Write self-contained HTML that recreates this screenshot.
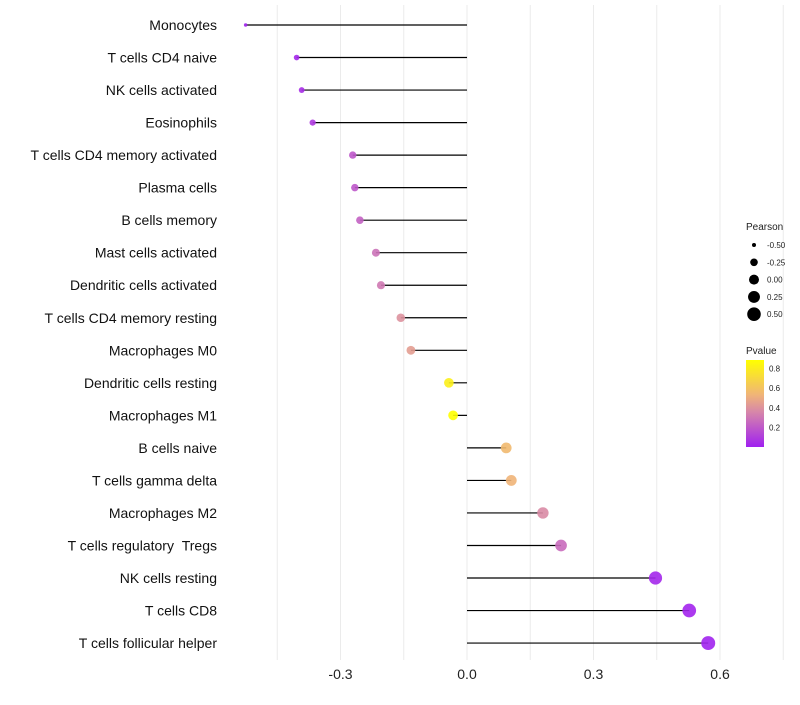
<!DOCTYPE html>
<html><head><meta charset="utf-8"><style>
body{margin:0;background:#fff;font-family:"Liberation Sans",sans-serif}
</style></head><body>
<svg id="chart" width="800" height="700" xmlns="http://www.w3.org/2000/svg" font-family="Liberation Sans, sans-serif"></svg>
<script>
const cells=["Monocytes","T cells CD4 naive","NK cells activated","Eosinophils","T cells CD4 memory activated","Plasma cells","B cells memory","Mast cells activated","Dendritic cells activated","T cells CD4 memory resting","Macrophages M0","Dendritic cells resting","Macrophages M1","B cells naive","T cells gamma delta","Macrophages M2","T cells regulatory \u00a0Tregs","NK cells resting","T cells CD8","T cells follicular helper"];
const pearson=[-0.525,-0.404,-0.392,-0.366,-0.271,-0.266,-0.254,-0.216,-0.204,-0.157,-0.133,-0.043,-0.033,0.093,0.105,0.18,0.223,0.447,0.527,0.572];
const pvalue=[0.01,0.03,0.05,0.1,0.22,0.22,0.26,0.32,0.35,0.45,0.5,0.82,0.88,0.62,0.6,0.42,0.3,0.03,0.02,0.01];
const xTicks=[-0.3,0,0.3,0.6];
const xTickLabels=["-0.3","0.0","0.3","0.6"];
const gridVals=[-0.45,-0.3,-0.15,0,0.15,0.3,0.45,0.6,0.75];
const sizeLegend=[-0.5,-0.25,0,0.25,0.5];
const sizeLegendLabels=["-0.50","-0.25","0.00","0.25","0.50"];
const colorLegend=[0.2,0.4,0.6,0.8];

const svg=document.getElementById('chart');
const NS="http://www.w3.org/2000/svg";
function mk(t,a){const e=document.createElementNS(NS,t);for(const k in a)e.setAttribute(k,a[k]);svg.appendChild(e);return e;}
const x=v=>467+v*421.7;
const y=i=>25+i*32.53;
const r=v=>Math.sqrt(3+(v+0.525)/1.1*46);
function lerp(a,b,t){return a.map((c,i)=>Math.round(c+(b[i]-c)*t));}
function col(p){const stops=[[0,[160,32,240]],[0.4,[214,134,170]],[0.6,[240,180,120]],[0.88,[255,255,0]]];
 if(p<=0)return 'rgb(160,32,240)';
 for(let i=1;i<stops.length;i++){if(p<=stops[i][0]){const t=(p-stops[i-1][0])/(stops[i][0]-stops[i-1][0]);return 'rgb('+lerp(stops[i-1][1],stops[i][1],t).join(',')+')';}}
 return 'rgb(255,255,0)';}

gridVals.forEach(g=>{const l=mk('line',{x1:x(g),x2:x(g),y1:5,y2:660,stroke:'#ebebeb','stroke-width':1});

});
xTicks.forEach((t,i)=>{const e=mk('text',{x:x(t),y:679,'text-anchor':'middle','font-size':14,fill:'#222'});e.textContent=xTickLabels[i];

});
cells.forEach((c,i)=>{
 const t=mk('text',{x:217,y:y(i)+5,'text-anchor':'end','font-size':14,fill:'#111'});t.textContent=c;
 
 
 const l=mk('line',{x1:x(0),x2:x(pearson[i]),y1:y(i),y2:y(i),stroke:'#000','stroke-width':1.2});
 
 
 const p=mk('circle',{cx:x(pearson[i]),cy:y(i),r:r(pearson[i]),fill:col(pvalue[i]),'fill-opacity':0.9});
 
 
});
const lt=mk('text',{x:746,y:230,'font-size':10,fill:'#222'});lt.textContent='Pearson';


sizeLegend.forEach((v,i)=>{const cy=245+i*17.3;
 const c=mk('circle',{cx:754,cy:cy,r:r(v),fill:'#000'});
 
 
 const t=mk('text',{x:767,y:cy+3,'font-size':8,fill:'#222'});t.textContent=sizeLegendLabels[i];
 
 });
const ct=mk('text',{x:746,y:354,'font-size':10,fill:'#222'});ct.textContent='Pvalue';


const defs=mk('defs',{});
const lg=document.createElementNS(NS,'linearGradient');lg.setAttribute('id','pg');lg.setAttribute('x1','0');lg.setAttribute('x2','0');lg.setAttribute('y1','1');lg.setAttribute('y2','0');
[[0,0],[0.4,0.4],[0.6,0.6],[1,0.88]].forEach(([o,p])=>{const s=document.createElementNS(NS,'stop');s.setAttribute('offset',o);s.setAttribute('stop-color',col(p));lg.appendChild(s);});
defs.appendChild(lg);
const bar=mk('rect',{x:746,y:360,width:18,height:87,fill:'url(#pg)'});


const py=p=>447-(p-0.005)/0.88*87;
colorLegend.forEach(p=>{const t=mk('text',{x:769,y:py(p)+3,'font-size':8,fill:'#222'});t.textContent=p.toFixed(1);
 
 });
</script>
</body></html>
